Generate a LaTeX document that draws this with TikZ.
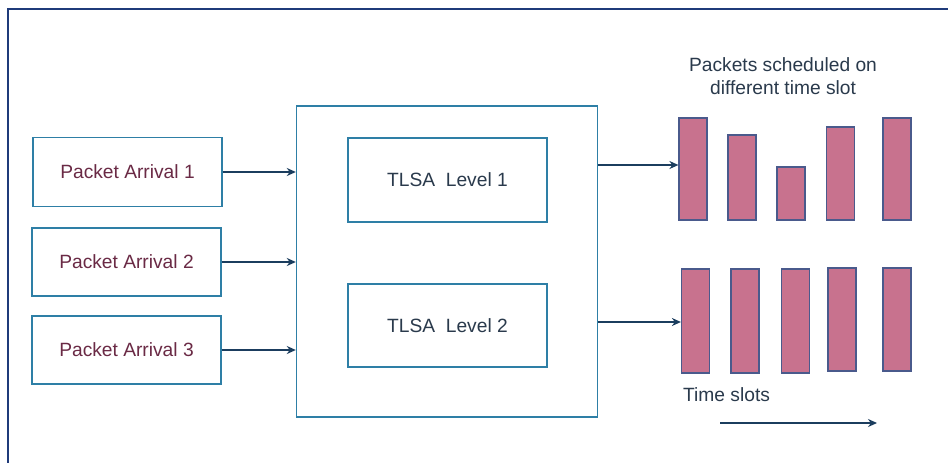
\documentclass[tikz,border=0pt]{standalone}
\usepackage{fontspec}
\setmainfont{Liberation Sans}
\usetikzlibrary{arrows.meta}
\definecolor{boxline}{HTML}{2E7FA6}
\definecolor{arrowc}{HTML}{1B3D5E}
\definecolor{framec}{HTML}{1F3B7A}
\definecolor{pktext}{HTML}{6A2A45}
\definecolor{tltext}{HTML}{2A3A4C}
\definecolor{barfill}{HTML}{C8728E}
\definecolor{barline}{HTML}{4A5A8C}
\tikzset{
  base/.style={font=\fontsize{19.2}{23}\selectfont},
  pkbox/.style={base, draw=boxline, line width=1.4pt, rectangle, minimum width=189pt, minimum height=69pt, inner sep=0pt, text=pktext},
  lvbox/.style={base, draw=boxline, line width=1.4pt, rectangle, minimum width=199pt, minimum height=84pt, inner sep=0pt, text=tltext},
  bigbox/.style={draw=boxline, line width=1.4pt, rectangle, minimum width=301pt, minimum height=311pt, inner sep=0pt},
  bar/.style={draw=barline, fill=barfill, line width=1.2pt, rectangle, minimum width=28pt, inner sep=0pt},
  conn/.style={draw=arrowc, line width=1.5pt, -{Stealth[length=9pt,width=8pt]}},
  lbl/.style={base, text=tltext, align=center, inner sep=0pt}
}
\begin{document}
\begin{tikzpicture}[x=1pt,y=-1pt]
\useasboundingbox (0,0) rectangle (948,463);
\fill[white] (0,0) rectangle (948,463);
\draw[framec, line width=1.8pt] (8,470) -- (8,9) -- (955,9);

\node[pkbox] (p1) at (127.5,172) {Packet Arrival 1};
\node[pkbox, minimum height=68pt] (p2) at (126.5,262) {Packet Arrival 2};
\node[pkbox, minimum height=68pt] (p3) at (126.5,350) {Packet Arrival 3};

\node[bigbox] (big) at (447,261.5) {};
\node[lvbox] (l1) at (447.5,180) {TLSA\ \ Level 1};
\node[lvbox, minimum height=83pt] (l2) at (447.5,325.5) {TLSA\ \ Level 2};

\draw[conn] (p1.east) -- (p1.east -| big.west);
\draw[conn] (p2.east) -- (p2.east -| big.west);
\draw[conn] (p3.east) -- (p3.east -| big.west);

\node[lbl] (title) at (783,76) {Packets scheduled on\\different time slot};

\node[bar, minimum height=102pt] (t1) at (693,169) {};
\node[bar, minimum height=85pt] (t2) at (742,177.5) {};
\node[bar, minimum height=53pt] (t3) at (791,193.5) {};
\node[bar, minimum height=93pt] (t4) at (840.5,173.5) {};
\node[bar, minimum height=102pt] (t5) at (897,169) {};

\node[bar, minimum height=104pt] (b1) at (695.5,321) {};
\node[bar, minimum height=104pt] (b2) at (745,321) {};
\node[bar, minimum height=104pt] (b3) at (795.5,321) {};
\node[bar, minimum height=103pt] (b4) at (842,319.5) {};
\node[bar, minimum height=103pt] (b5) at (897,319.5) {};

\coordinate (o1) at (598,165);
\coordinate (o2) at (598,322);
\draw[conn] (o1) -- (o1 -| t1.west);
\draw[conn] (o2) -- (o2 -| b1.west);

\node[lbl, anchor=west] (ts) at (683,395) {Time slots};
\coordinate (ta) at (720,423);
\coordinate (tb) at (877,423);
\draw[conn] (ta) -- (tb);
\end{tikzpicture}
\end{document}
